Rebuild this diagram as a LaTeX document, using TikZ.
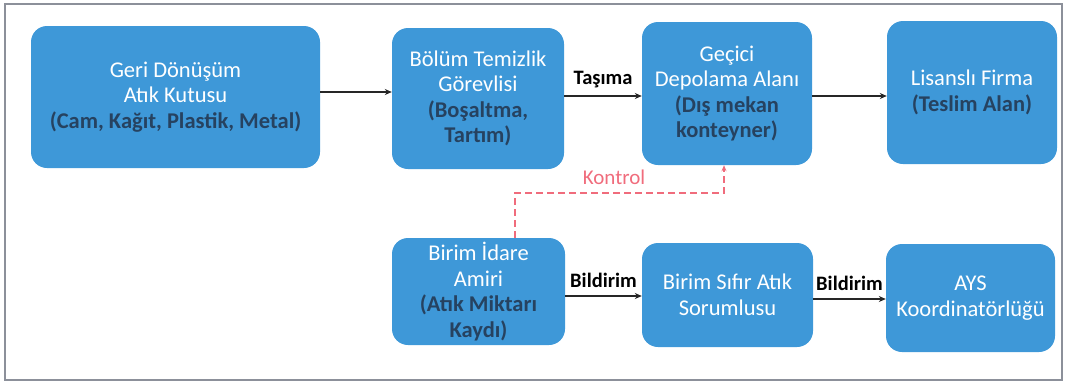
\documentclass[tikz,border=0pt]{standalone}
\usepackage{fontspec}
\setmainfont{Carlito}
\usetikzlibrary{arrows.meta}
\definecolor{boxblue}{RGB}{62,152,216}
\definecolor{paren}{RGB}{38,66,96}
\definecolor{kontrolc}{RGB}{240,108,124}
\definecolor{framec}{RGB}{140,144,154}
\newcommand{\pr}[1]{{\color{paren}\bfseries #1}}
\tikzset{
  box/.style={fill=boxblue, draw=none, rounded corners=16pt, align=center, text=white,
    font=\fontsize{22.5}{25.5}\selectfont, inner sep=2pt},
  flow/.style={draw=black!85, line width=1.8pt, -{Stealth[length=7pt,width=6pt]}},
  lbl/.style={font=\bfseries\fontsize{20.5}{24}\selectfont, text=black, inner sep=0pt},
  kontrol/.style={draw=kontrolc, line width=2pt, dash pattern=on 7pt off 4pt,
    -{Stealth[length=6pt,width=5pt]}},
}
\begin{document}
\begin{tikzpicture}[x=1pt,y=-1pt]
\useasboundingbox (0,0) rectangle (1066,389);
\draw[framec, line width=1.2pt] (5,4) rectangle (1062,380);
% top row
\node[box, minimum width=289pt, minimum height=142pt] (b1) at (175.5,97)
  {Geri Dönüşüm\\Atık Kutusu\\\pr{(Cam, Kağıt, Plastik, Metal)}};
\node[box, minimum width=172pt, minimum height=141pt] (b2) at (478,98.5)
  {Bölüm Temizlik\\Görevlisi\\\pr{(Boşaltma,}\\\pr{Tartım)}};
\node[box, minimum width=170pt, minimum height=143pt] (b3) at (727,93.5)
  {Geçici\\Depolama Alanı\\\pr{(Dış mekan}\\\pr{konteyner)}};
\node[box, minimum width=170pt, minimum height=143pt] (b4) at (972,92.5)
  {Lisanslı Firma\\\pr{(Teslim Alan)}};
% bottom row
\node[box, minimum width=173pt, minimum height=107pt] (b5) at (478.5,291.5)
  {Birim İdare\\Amiri\\\pr{(Atık Miktarı}\\\pr{Kaydı)}};
\node[box, minimum width=171pt, minimum height=104pt] (b6) at (727.5,295)
  {Birim Sıfır Atık\\Sorumlusu};
\node[box, minimum width=169pt, minimum height=108pt] (b7) at (970.5,298)
  {AYS\\Koordinatörlüğü};
% arrows
\draw[flow] (b1.east |- 0,92) -- (b2.west |- 0,92);
\draw[flow] (b2.east |- 0,96) -- (b3.west |- 0,96) node[lbl, midway, above=7pt] (t1) {Taşıma};
\draw[flow] (b3.east |- 0,96) -- (b4.west |- 0,96);
\draw[flow] (b5.east |- 0,296) -- (b6.west |- 0,296) node[lbl, midway, above=7pt] (t2) {Bildirim};
\draw[flow] (b6.east |- 0,299) -- (b7.west |- 0,299) node[lbl, midway, above=7pt] (t3) {Bildirim};
% kontrol
\coordinate (k1) at (515,193);
\coordinate (k2) at (724,193);
\draw[kontrol] (b5.north -| k1) -- (k1) -- (k2) -- (b3.south -| k2);
\node[font=\fontsize{21}{24}\selectfont, text=kontrolc, inner sep=0pt] (kl) at (614,177) {Kontrol};
\end{tikzpicture}
\end{document}
